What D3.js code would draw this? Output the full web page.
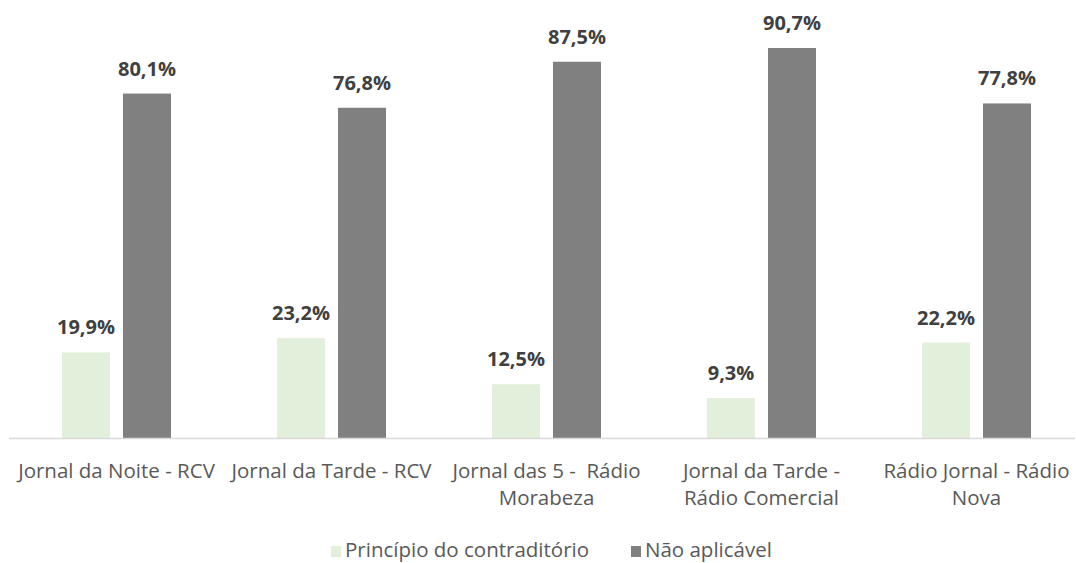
<!DOCTYPE html>
<html>
<head>
<meta charset="utf-8">
<script src="https://cdn.jsdelivr.net/npm/d3@7"></script>
<style>
  body { margin: 0; background: #fff; }
  svg { display: block; font-family: "Open Sans", Lato, sans-serif; }
</style>
</head>
<body>
<svg id="chart"></svg>
<script>
const categories = [
  ['Jornal da Noite - RCV'],
  ['Jornal da Tarde - RCV'],
  ['Jornal das 5 -\u00a0 Rádio', 'Morabeza'],
  ['Jornal da Tarde -', 'Rádio Comercial'],
  ['Rádio Jornal - Rádio', 'Nova']
];
const seriesNames = ['Princípio do contraditório', 'Não aplicável'];
const contraditorio = [19.9, 23.2, 12.5, 9.3, 22.2];
const naoAplicavel = [80.1, 76.8, 87.5, 90.7, 77.8];
const colors = ['#e2efda', '#808080'];

const W = 1076, H = 563;
const margin = { top: 8, right: 1, bottom: 125, left: 10 };
const width = W - margin.left - margin.right;
const height = H - margin.top - margin.bottom;

const svg = d3.select('#chart').attr('width', W).attr('height', H);
const g = svg.append('g').attr('transform', `translate(${margin.left},${margin.top})`);

const x = d3.scaleBand().domain(d3.range(categories.length)).range([0, 1075]);
const xs = d3.scaleBand().domain([0, 1]).range([52, 161]).paddingInner(0.213);
const y = d3.scaleLinear().domain([0, 100]).range([height, 0]);

const series = [contraditorio, naoAplicavel];
const fmt = v => v.toFixed(1).replace('.', ',') + '%';

series.forEach((vals, si) => {
  const sg = g.append('g');
  sg.selectAll('rect').data(vals).join('rect')
    .attr('x', (d, i) => x(i) + xs(si))
    .attr('y', d => y(d))
    .attr('width', xs.bandwidth())
    .attr('height', d => height - y(d))
    .attr('fill', colors[si]);
  sg.selectAll('text').data(vals).join('text')
    .attr('x', (d, i) => x(i) + xs(si) + xs.bandwidth() / 2)
    .attr('y', d => y(d) - 18)
    .attr('text-anchor', 'middle')
    .attr('font-size', 20)
    .attr('font-weight', 'bold')
    .attr('fill', '#404040')
    .text(fmt);
});

g.append('line')
  .attr('x1', -1).attr('x2', width)
  .attr('y1', height + 0.5).attr('y2', height + 0.5)
  .attr('stroke', '#d9d9d9').attr('stroke-width', 1.5);

const xl = g.append('g').attr('transform', `translate(0,${height})`);
categories.forEach((lines, i) => {
  const t = xl.append('text')
    .attr('text-anchor', 'middle')
    .attr('font-size', 20.5)
    .attr('fill', '#595959');
  lines.forEach((ln, k) => {
    t.append('tspan')
      .attr('x', x(i) + x.bandwidth() / 2 - 1)
      .attr('y', 40 + k * 27)
      .text(ln);
  });
});

const legend = svg.append('g').attr('transform', 'translate(0,557)');
const items = [{ x: 331 }, { x: 631 }];
seriesNames.forEach((name, i) => {
  legend.append('rect')
    .attr('x', items[i].x).attr('y', -11)
    .attr('width', 10).attr('height', 11)
    .attr('fill', colors[i]);
  legend.append('text')
    .attr('x', items[i].x + 14).attr('y', 0)
    .attr('font-size', 20.5)
    .attr('fill', '#595959')
    .text(name);
});
</script>
</body>
</html>
